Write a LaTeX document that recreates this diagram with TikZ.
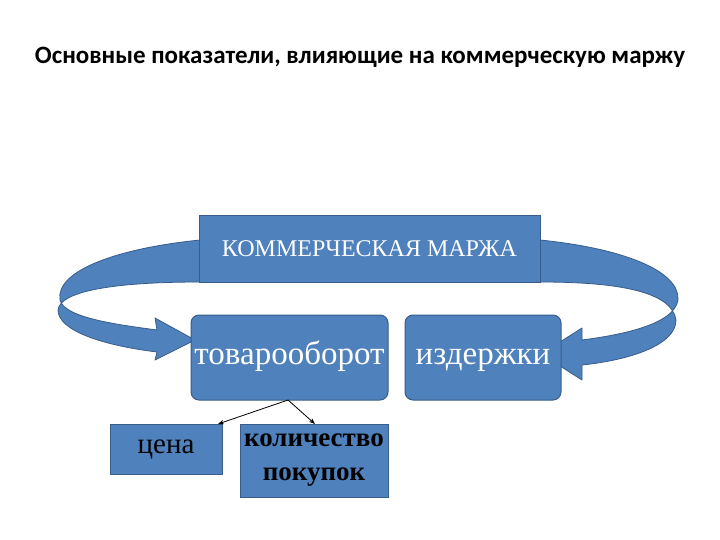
\documentclass[tikz,border=0pt]{standalone}
\usepackage{fontspec}
\setmainfont{Liberation Serif}
\newfontfamily\titlefont{Carlito}
\usetikzlibrary{arrows.meta}
\definecolor{bfill}{RGB}{79,129,189}
\definecolor{bline}{RGB}{56,93,138}
\begin{document}
\begin{tikzpicture}[x=1pt,y=-1pt,
  boxst/.style={draw=bline,fill=bfill,line width=1pt,inner sep=0pt},
  band/.style={draw=bline,fill=bfill,line width=0.8pt,line join=round}]
\useasboundingbox (0,0) rectangle (720,540);
\node[font=\titlefont\bfseries\fontsize{25}{30}\selectfont] (title) at (360,57) {Основные показатели, влияющие на коммерческую маржу};
% bands
\draw[band] (200,240) .. controls (120,248) and (55,270) .. (60,300)
  .. controls (64,318) and (120,325) .. (157,330) -- (155,318) -- (195,340) -- (155,360) -- (157,352)
  .. controls (100,345) and (58,330) .. (58,310) .. controls (60,290) and (120,282) .. (200,282) -- cycle;
\draw[band] (540,240) .. controls (620,248) and (680,270) .. (678,300)
  .. controls (674,325) and (620,335) .. (582,340) -- (582,328) -- (541,354) -- (582,380) -- (582,365)
  .. controls (630,360) and (676,345) .. (676,320) .. controls (672,292) and (620,282) .. (540,282) -- cycle;
\node[boxst,minimum width=341,minimum height=66,text=white,font=\fontsize{24}{28}\selectfont] (marg) at (369.5,249) {КОММЕРЧЕСКАЯ МАРЖА};
\node[boxst,rounded corners=8pt,minimum width=197,minimum height=85,text=white,text height=20pt,text depth=7pt,font=\fontsize{33}{38}\selectfont] (turn) at (289.5,357.5) {товарооборот};
\node[boxst,rounded corners=8pt,minimum width=156,minimum height=85,text=white,text height=20pt,text depth=7pt,font=\fontsize{33}{38}\selectfont] (cost) at (483,357.5) {издержки};
\node[boxst,minimum width=112,minimum height=50,font=\fontsize{29}{32}\selectfont] (price) at (166,449) {цена};
\node[boxst,minimum width=148,minimum height=73,align=center,font=\bfseries\fontsize{27}{34}\selectfont] (qty) at (314,460.5) {количество\\покупок};
\draw[-{Stealth[length=6pt]},line width=0.8pt] (288,400) -- (218,424);
\draw[-{Stealth[length=6pt]},line width=0.8pt] (288,400) -- (315,424);
\end{tikzpicture}
\end{document}
